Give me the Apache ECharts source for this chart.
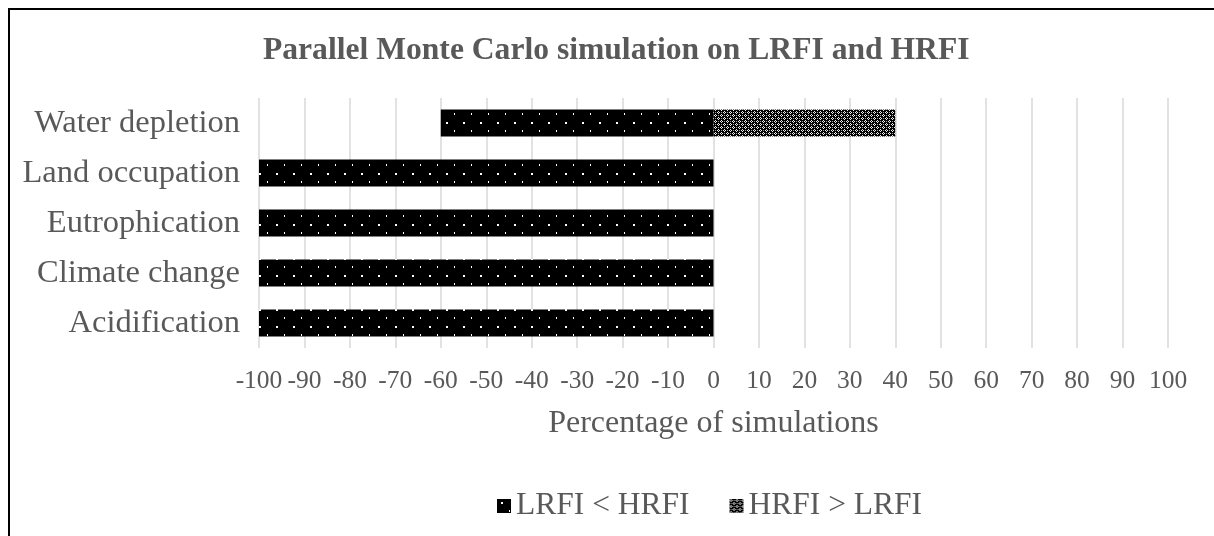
<!DOCTYPE html>
<html>
<head>
<meta charset="utf-8">
<style>
  html, body { margin: 0; padding: 0; background: #fff; }
  #chart { width: 1214px; height: 536px; }
</style>
<script src="https://cdn.jsdelivr.net/npm/echarts@6/dist/echarts.min.js"></script>
</head>
<body>
<div id="chart"></div>
<script>
const categories = ['Acidification', 'Climate change', 'Eutrophication', 'Land occupation', 'Water depletion']
const lrfiLower = [-100, -100, -100, -100, -60]
const hrfiHigher = [0, 0, 0, 0, 40]
const seriesNames = ['LRFI < HRFI', 'HRFI > LRFI']

const FONT = "'Liberation Serif', 'Times New Roman', serif"
const TEXT = '#595959'

// black with white staggered dots
function dotPattern() {
  const c = document.createElement('canvas')
  c.width = 17
  c.height = 17
  const ctx = c.getContext('2d')
  ctx.fillStyle = '#000'
  ctx.fillRect(0, 0, 17, 17)
  ctx.fillStyle = '#fff'
  ctx.fillRect(4, 3, 2, 2)
  ctx.fillRect(12, 11, 1, 2)
  return c
}

// coarse checkered pattern
function checkPattern() {
  const c = document.createElement('canvas')
  c.width = 6
  c.height = 6
  const ctx = c.getContext('2d')
  ctx.fillStyle = '#000'
  ctx.fillRect(0, 0, 6, 6)
  ctx.fillStyle = '#eee'
  ctx.fillRect(1, 0, 1, 1)
  ctx.fillRect(0, 1, 1, 1)
  ctx.fillRect(2, 1, 1, 1)
  ctx.fillRect(1, 2, 1, 1)
  ctx.fillRect(4, 3, 1, 1)
  ctx.fillRect(3, 4, 1, 1)
  ctx.fillRect(5, 4, 1, 1)
  ctx.fillRect(4, 5, 1, 1)
  ctx.fillStyle = '#999'
  ctx.fillRect(4, 1, 1, 1)
  ctx.fillRect(1, 4, 1, 1)
  return c
}

const chart = echarts.init(document.getElementById('chart'))

chart.setOption({
  animation: false,
  textStyle: { fontFamily: FONT },
  graphic: [{
    type: 'rect',
    shape: { x: 9, y: 9, width: 1400, height: 800 },
    style: { fill: 'none', stroke: '#000', lineWidth: 2 },
    silent: true,
  }],
  title: {
    text: 'Parallel Monte Carlo simulation on LRFI and HRFI',
    left: 258,
    top: 30,
    textStyle: { fontFamily: FONT, fontSize: 31.6, fontWeight: 'bold', color: TEXT },
  },
  legend: {
    data: seriesNames,
    icon: 'rect',
    left: 492,
    top: 485,
    itemWidth: 14,
    itemHeight: 14,
    itemGap: 40,
    textStyle: { fontFamily: FONT, fontSize: 31.5, color: TEXT },
  },
  grid: { left: 259, right: 46, top: 98, bottom: 188 },
  xAxis: {
    type: 'value',
    min: -100,
    max: 100,
    interval: 10,
    name: 'Percentage of simulations',
    nameLocation: 'middle',
    nameGap: 60,
    nameTextStyle: { fontFamily: FONT, fontSize: 32, color: TEXT },
    axisLine: { show: false },
    axisTick: { show: false },
    axisLabel: { fontFamily: FONT, fontSize: 25.5, color: TEXT, margin: 20 },
    splitLine: { lineStyle: { color: '#d9d9d9', width: 1.5 } },
  },
  yAxis: {
    type: 'category',
    data: categories,
    axisLine: { show: false },
    axisTick: { show: false },
    axisLabel: { fontFamily: FONT, fontSize: 32.5, color: TEXT, margin: 19 },
  },
  series: [
    {
      name: seriesNames[0],
      type: 'bar',
      stack: 'sim',
      data: lrfiLower,
      barWidth: 27,
      itemStyle: { color: { image: dotPattern(), repeat: 'repeat' } },
    },
    {
      name: seriesNames[1],
      type: 'bar',
      stack: 'sim',
      data: hrfiHigher,
      barWidth: 27,
      itemStyle: { color: { image: checkPattern(), repeat: 'repeat' } },
    },
  ],
})
</script>
</body>
</html>
